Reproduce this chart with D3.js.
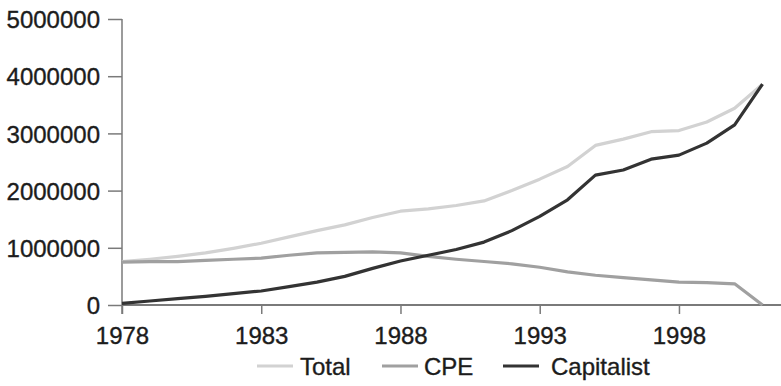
<!DOCTYPE html>
<html>
<head>
<meta charset="utf-8">
<script src="https://cdn.jsdelivr.net/npm/d3@7"></script>
<style>
  html, body { margin: 0; padding: 0; background: #fff; }
  svg { display: block; }
  text { font-family: "Liberation Sans", Arial, sans-serif; fill: #1c1c1c; stroke: #1c1c1c; stroke-width: 0.35px; }
</style>
</head>
<body>
<div id="chart"></div>
<script>
const years = d3.range(1978, 2002);
const total = [760000, 800000, 850000, 910000, 990000, 1080000, 1190000, 1300000, 1400000, 1530000, 1640000, 1680000, 1740000, 1820000, 2000000, 2200000, 2420000, 2790000, 2900000, 3030000, 3050000, 3200000, 3440000, 3860000];
const cpe = [750000, 760000, 760000, 780000, 800000, 820000, 870000, 910000, 920000, 930000, 910000, 850000, 800000, 760000, 720000, 660000, 580000, 520000, 480000, 440000, 400000, 390000, 370000, 0];
const capitalist = [30000, 70000, 110000, 150000, 200000, 245000, 320000, 400000, 500000, 640000, 770000, 870000, 970000, 1100000, 1300000, 1550000, 1840000, 2270000, 2360000, 2550000, 2620000, 2830000, 3150000, 3860000];
const yTicks = [0, 1000000, 2000000, 3000000, 4000000, 5000000];
const xTicks = [1978, 1983, 1988, 1993, 1998];
const seriesNames = ["Total", "CPE", "Capitalist"];
const seriesColors = ["#d2d2d2", "#a0a0a0", "#333333"];

const W = 781, H = 386;
const svg = d3.select("#chart").append("svg").attr("width", W).attr("height", H);

const x = d3.scaleLinear().domain([1978, 2001]).range([122, 762.5]);
const y = d3.scaleLinear().domain([0, 5000000]).range([305, 19]);

const axisColor = "#7a7a7a";

// Y axis
const yAxis = svg.append("g").attr("transform", "translate(122,0)")
  .call(d3.axisLeft(y).tickValues(yTicks).tickFormat(d3.format("d")).tickSize(14).tickPadding(8));
yAxis.select(".domain").remove();
yAxis.selectAll(".tick line").attr("stroke", axisColor).attr("stroke-width", 1.5);
yAxis.selectAll("text").style("font-size", "24px").attr("dy", "0.36em");
svg.append("line").attr("x1", 122).attr("x2", 122).attr("y1", y(5000000)).attr("y2", y(0) + 9)
  .attr("stroke", axisColor).attr("stroke-width", 1.5);

// X axis
const xAxis = svg.append("g").attr("transform", "translate(0,305)")
  .call(d3.axisBottom(x).tickValues(xTicks).tickFormat(d3.format("d")).tickSize(9).tickPadding(13));
xAxis.select(".domain").remove();
xAxis.selectAll(".tick line").attr("stroke", axisColor).attr("stroke-width", 1.5);
xAxis.selectAll("text").style("font-size", "24px");
svg.append("line").attr("x1", 122).attr("x2", W).attr("y1", 305).attr("y2", 305)
  .attr("stroke", axisColor).attr("stroke-width", 2);

// Lines
const data = [total, cpe, capitalist];
const line = d3.line().x((d, i) => x(years[i])).y(d => y(d));
data.forEach((s, k) => {
  svg.append("path").datum(s).attr("d", line)
    .attr("fill", "none").attr("stroke", seriesColors[k]).attr("stroke-width", 3.2)
    .attr("stroke-linejoin", "round");
});

// Legend
const legendLineX = [257, 382, 503];
const legendTextX = [300, 424, 551];
const lg = svg.append("g").attr("transform", "translate(0,366)");
seriesNames.forEach((n, k) => {
  lg.append("line").attr("x1", legendLineX[k]).attr("x2", legendLineX[k] + 36).attr("y1", 0).attr("y2", 0)
    .attr("stroke", seriesColors[k]).attr("stroke-width", 3);
  lg.append("text").attr("x", legendTextX[k]).attr("y", 8.5).style("font-size", "24px").text(n);
});
</script>
</body>
</html>
